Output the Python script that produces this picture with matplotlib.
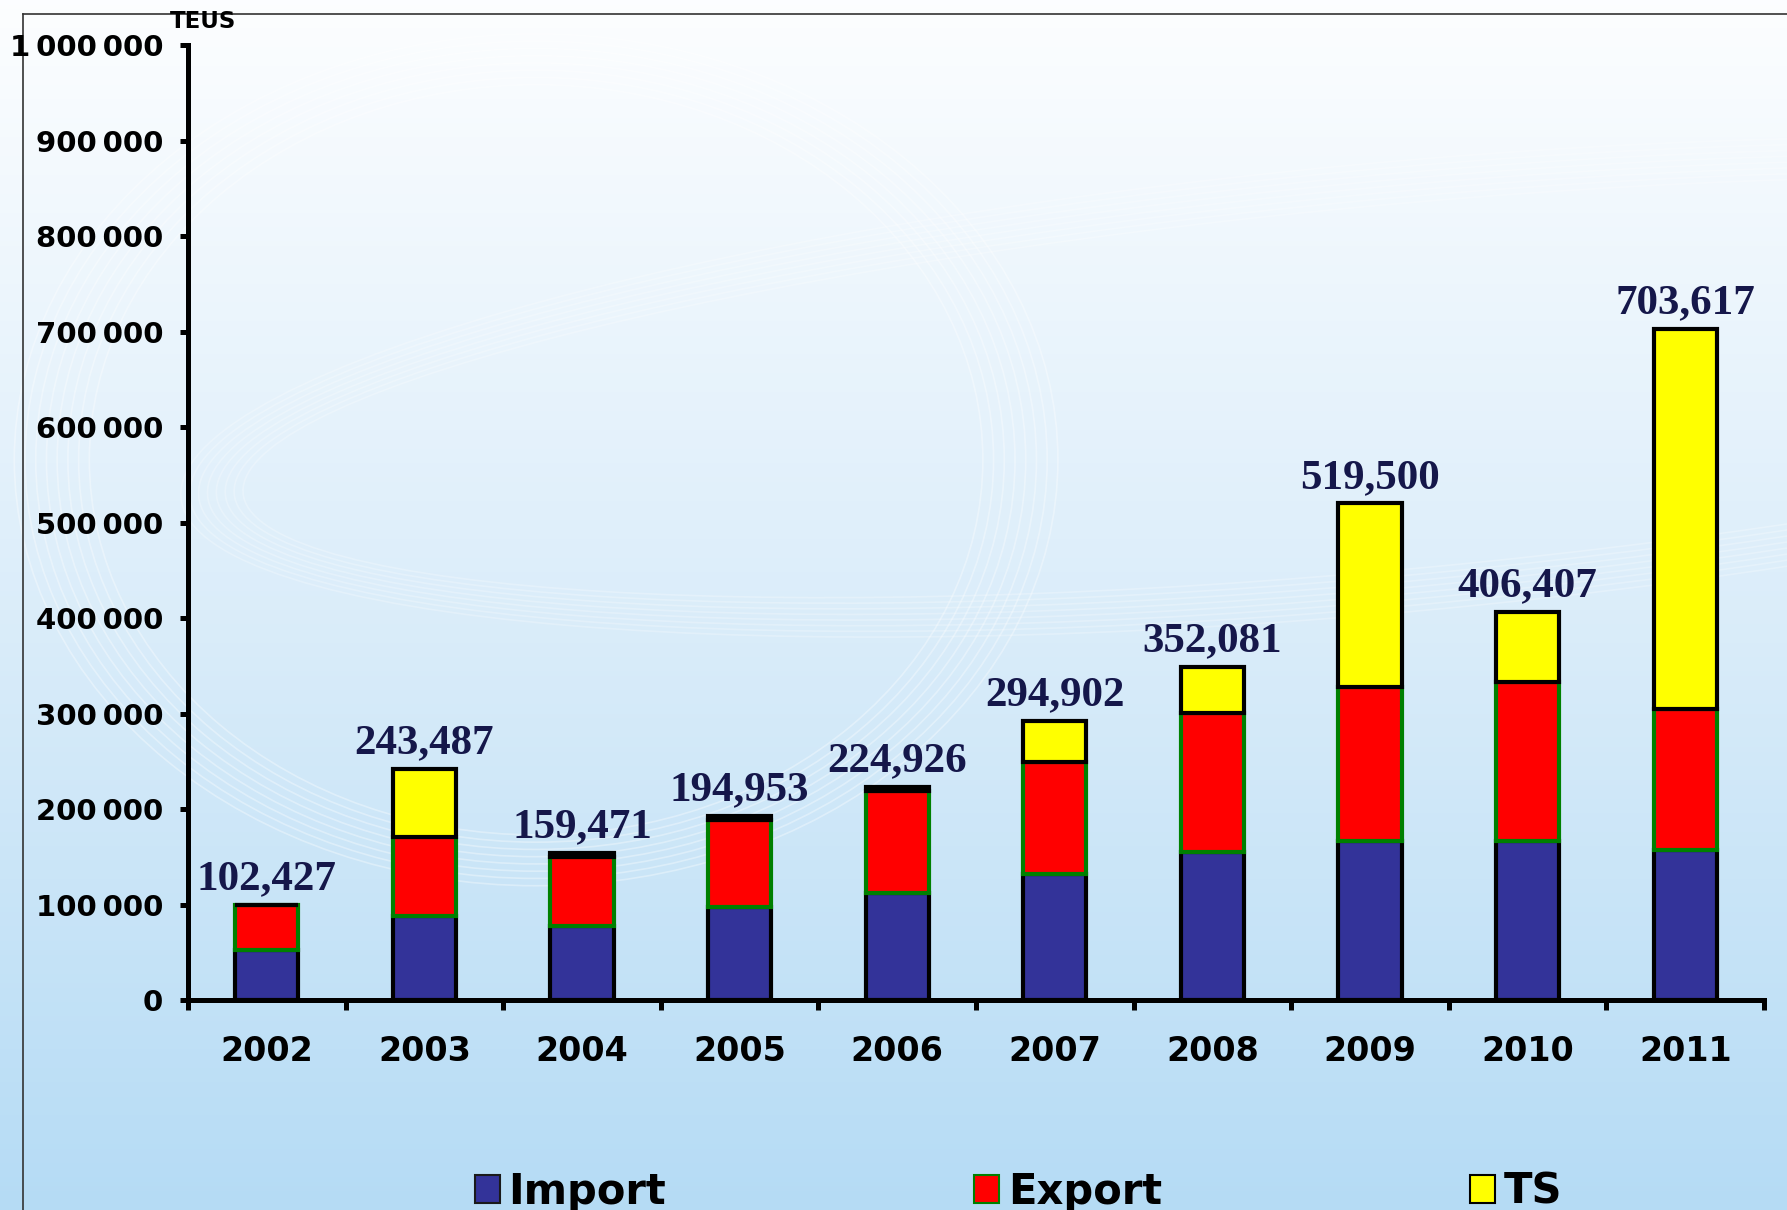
import numpy as np
import matplotlib
matplotlib.use("Agg")
import matplotlib.pyplot as plt
from matplotlib.patches import Patch, Ellipse
from matplotlib.ticker import FuncFormatter, FixedLocator

years = ["2002", "2003", "2004", "2005", "2006", "2007", "2008", "2009", "2010", "2011"]
import_vals = [52000, 88000, 77000, 97000, 112000, 132000, 155000, 167000, 166000, 157000]
export_vals = [48000, 83000, 73000, 92000, 107000, 117000, 146000, 161000, 167000, 148000]
ts_vals = [0, 71000, 4000, 4000, 4000, 43000, 48000, 192000, 73000, 398000]
total_labels = ["102,427", "243,487", "159,471", "194,953", "224,926",
                "294,902", "352,081", "519,500", "406,407", "703,617"]
yticks = [0, 100000, 200000, 300000, 400000, 500000, 600000, 700000, 800000, 900000, 1000000]

W, H = 1787, 1210
fig = plt.figure(figsize=(W / 100, H / 100), dpi=100)

# background gradient
bg = fig.add_axes([0, 0, 1, 1], zorder=-10)
grad = np.linspace(0, 1, 256)[:, None]
top = np.array([0.99, 0.995, 1.0])
mid = np.array([0.86, 0.93, 0.98])
bot = np.array([0.71, 0.86, 0.96])
cols = np.where(grad[..., None] < 0.5,
                top + (mid - top) * (grad[..., None] / 0.5),
                mid + (bot - mid) * ((grad[..., None] - 0.5) / 0.5))
cols = np.repeat(cols, 4, axis=1)
bg.imshow(cols, aspect="auto", extent=[0, 1, 0, 1], origin="upper")
# faint decorative swooshes
for i in range(8):
    bg.add_patch(Ellipse((0.30, 0.62), 0.50 + i * 0.012, 0.62 + i * 0.012,
                         fill=False, ec="white", lw=1.2, alpha=0.35))
    bg.add_patch(Ellipse((0.78, 0.68), 1.30 + i * 0.01, 0.30 + i * 0.01, angle=8,
                         fill=False, ec="white", lw=1.2, alpha=0.25))
# frame lines
bg.plot([23 / W, 23 / W], [0, 1 - 14 / H], color="#333333", lw=1.2)
bg.plot([23 / W, 1], [1 - 14 / H, 1 - 14 / H], color="#333333", lw=1.2)
bg.set_xlim(0, 1)
bg.set_ylim(0, 1)
bg.axis("off")

left, right = 188 / W, 1764 / W
bottom, topy = 1 - 1000 / H, 1 - 45 / H
ax = fig.add_axes([left, bottom, right - left, topy - bottom])
ax.patch.set_alpha(0)

x = np.arange(len(years))
imp = np.array(import_vals)
exp_ = np.array(export_vals)
ts = np.array(ts_vals)
bw = 0.4
ax.bar(x, imp, bw, color="#333399", edgecolor="black", lw=3, zorder=3)
ax.bar(x, exp_, bw, bottom=imp, color="#FF0000", edgecolor="#008000", lw=3, zorder=4)
ax.bar(x, ts, bw, bottom=imp + exp_, color="#FFFF00", edgecolor="black", lw=3, zorder=5)

totals = imp + exp_ + ts
for xi, t, lab in zip(x, totals, total_labels):
    ax.text(xi, t + 7000, lab, ha="center", va="bottom",
            fontsize=31, fontweight="bold", family="Liberation Serif",
            color="#15174a", zorder=6)

ax.set_xlim(-0.5, len(years) - 0.5)
ax.set_ylim(0, 1000000)
ax.set_yticks(yticks)
ax.yaxis.set_major_formatter(FuncFormatter(lambda v, p: f"{int(v):,}".replace(",", "\u2009")))
ax.set_xticks(x)
ax.set_xticklabels(years)
ax.xaxis.set_minor_locator(FixedLocator(np.arange(-0.5, len(years), 1.0)))

for s in ["top", "right"]:
    ax.spines[s].set_visible(False)
for s in ["left", "bottom"]:
    ax.spines[s].set_linewidth(3.6)
    ax.spines[s].set_color("black")
ax.tick_params(axis="y", which="major", length=6, width=3.6, pad=12, labelsize=21)
ax.tick_params(axis="x", which="major", length=0, pad=25, labelsize=24)
ax.tick_params(axis="x", which="minor", length=7, width=3.6)
for lab in ax.get_yticklabels() + ax.get_xticklabels():
    lab.set_fontweight("bold")

fig.text(203 / W, 1 - 22 / H, "TEUS", ha="center", va="center",
         fontsize=16.5, fontweight="bold")

handles = [Patch(facecolor="#333399", edgecolor="#1a1a1a", lw=1.5),
           Patch(facecolor="#FF0000", edgecolor="#008000", lw=1.5),
           Patch(facecolor="#FFFF00", edgecolor="black", lw=1.5)]
leg = fig.legend(handles, ["Import", "Export", "TS"], ncol=3, loc="center",
                 bbox_to_anchor=(0.57, 1 - 1192 / H), frameon=False,
                 prop={"weight": "bold", "size": 30},
                 handlelength=0.6, handleheight=0.65, handletextpad=0.2,
                 columnspacing=7.4)

fig.savefig("out.png", dpi=100)
